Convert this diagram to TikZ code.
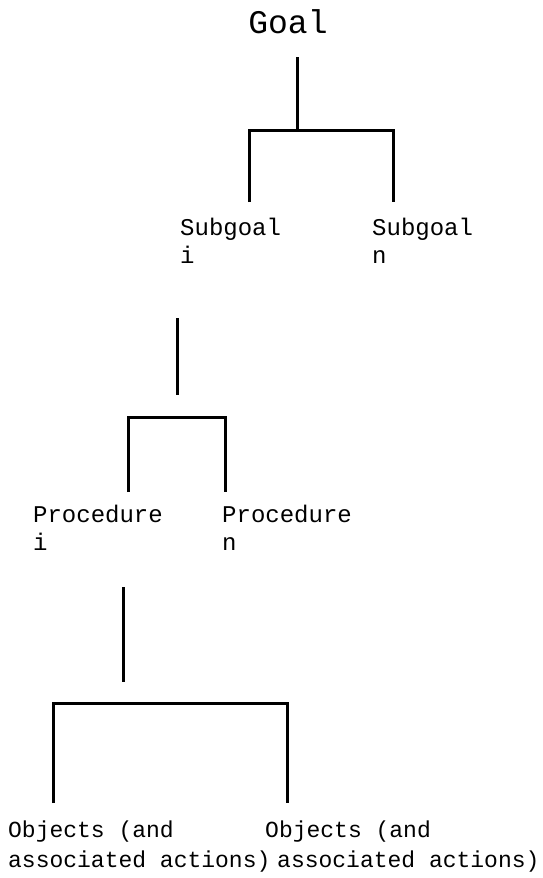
\documentclass[tikz,border=0pt]{standalone}
\usepackage{fontspec}
\setmonofont{Liberation Mono}
\usetikzlibrary{calc,positioning}
\tikzset{
    lbl/.style={anchor=base west, inner sep=0pt, align=left, font=\ttfamily\fontsize{24pt}{28pt}\selectfont},
    objlbl/.style={lbl, font=\ttfamily\fontsize{23pt}{30pt}\selectfont},
    link/.style={line width=3pt, black},
}
\begin{document}
\begin{tikzpicture}[x=1pt, y=-1pt]
    % 画布范围
    \useasboundingbox (0,0) rectangle (543,878);

    % 目标
    \node[anchor=base, inner sep=0pt, font=\ttfamily\fontsize{33pt}{38pt}\selectfont] (goal) at (288, 33) {Goal};

    % 子目标 (base = 末行基线)
    \node[lbl] (subi) at (180, 263) {Subgoal\\i};
    \node[lbl] (subn) at (372, 263) {Subgoal\\n};

    % 过程
    \node[lbl] (proci) at (33, 550) {Procedure\\i};
    \node[lbl] (procn) at (222, 550) {Procedure\\n};

    % 对象
    \node[objlbl] (obji) at (8, 867) {Objects (and\\associated actions)};
    \node[objlbl] (objn) at (265, 867) {Objects (and\\\hspace*{12pt}associated actions)};

    % 目标 -> 子目标
    \coordinate (gtop) at (297, 57);
    \coordinate (gbar) at (297, 130);
    \coordinate (gbl) at (249, 130);
    \coordinate (sgl) at (249, 202);
    \coordinate (sgr) at (393, 202);
    \draw[link] (gtop) -- (gbar);
    \draw[link] (sgl) -- (gbl) -| (sgr);

    % 子目标 i -> 过程
    \coordinate (stop) at (177, 318);
    \coordinate (sbot) at (177, 395);
    \coordinate (pbl) at (128, 417);
    \coordinate (pl) at (128, 492);
    \coordinate (pr) at (225, 492);
    \draw[link] (stop) -- (sbot);
    \draw[link] (pl) -- (pbl) -| (pr);

    % 过程 i -> 对象
    \coordinate (ptop) at (123, 587);
    \coordinate (pbot) at (123, 682);
    \coordinate (obl) at (53, 703);
    \coordinate (objl) at (53, 803);
    \coordinate (objr) at (287, 803);
    \draw[link] (ptop) -- (pbot);
    \draw[link] (objl) -- (obl) -| (objr);
\end{tikzpicture}
\end{document}
